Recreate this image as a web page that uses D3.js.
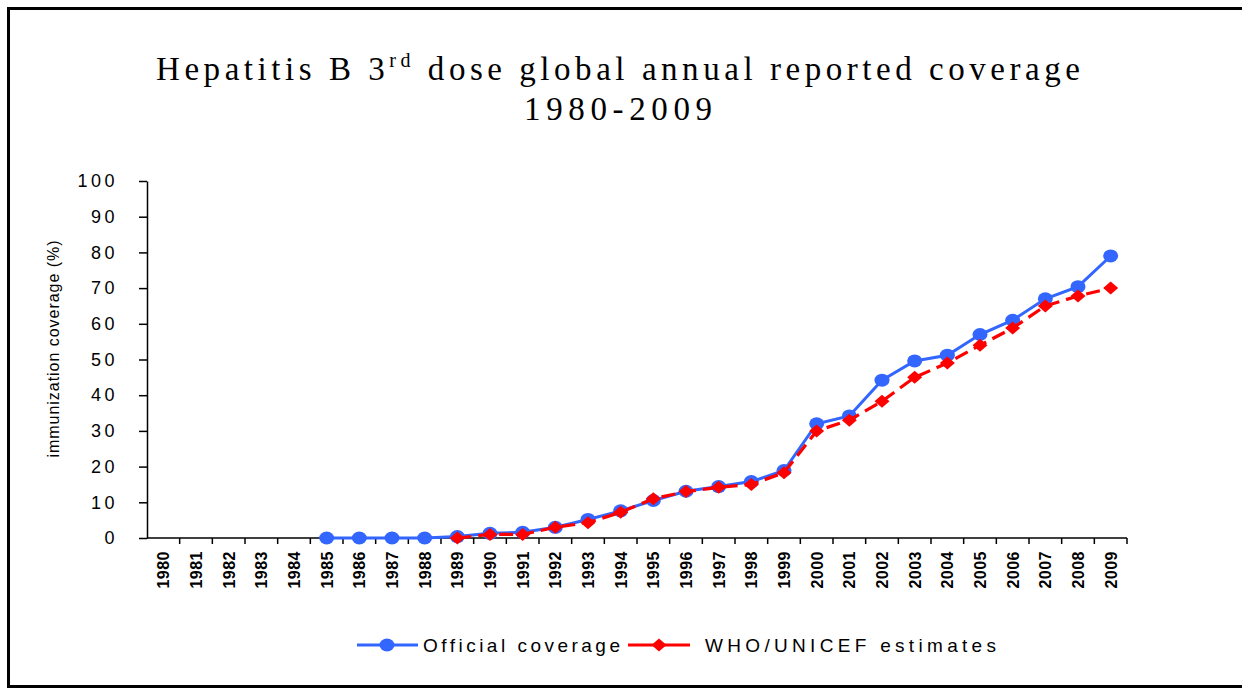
<!DOCTYPE html>
<html>
<head>
<meta charset="utf-8">
<script src="https://cdn.jsdelivr.net/npm/d3@7"></script>
<style>
  body { margin: 0; background: #fff; overflow: hidden; }
  svg { display: block; }
</style>
</head>
<body>
<svg id="chart" width="1242" height="689"></svg>
<script>
// data
const years = ['1980', '1981', '1982', '1983', '1984', '1985', '1986', '1987', '1988', '1989',
  '1990', '1991', '1992', '1993', '1994', '1995', '1996', '1997', '1998', '1999',
  '2000', '2001', '2002', '2003', '2004', '2005', '2006', '2007', '2008', '2009']
const official = [null, null, null, null, null, 0, 0, 0, 0, 0.4,
  1.3, 1.6, 3, 5.2, 7.6, 10.5, 13.1, 14.4, 15.8, 18.9,
  32, 34.2, 44.2, 49.6, 51.2, 57, 61, 67, 70.4, 79]
const whoUnicef = [null, null, null, null, null, null, null, null, null, 0,
  1, 1, 3, 4.3, 7.2, 11, 13, 14.2, 15, 18.3,
  30, 33, 38.3, 45, 49, 54, 58.8, 65, 67.8, 70]
const yTicks = [0, 10, 20, 30, 40, 50, 60, 70, 80, 90, 100]

const blue = '#3366ff'
const red = '#ff0000'

const svg = d3.select('#chart')

// outer frame (right edge is off the picture)
svg.append('path')
  .attr('d', 'M1250,8.5H8.5V686.5H1250')
  .attr('fill', 'none').attr('stroke', '#000').attr('stroke-width', 3)

// title
const title = svg.append('text')
  .attr('x', 618).attr('y', 80)
  .attr('text-anchor', 'middle')
  .attr('font-family', '"Liberation Serif", "Times New Roman", serif')
  .attr('font-size', 33)
  .attr('textLength', 924).attr('lengthAdjust', 'spacing')
title.append('tspan').text('Hepatitis B 3')
title.append('tspan').attr('dy', -13).attr('font-size', 20).text('rd')
title.append('tspan').attr('dy', 13).text(' dose global annual reported coverage')

svg.append('text')
  .attr('x', 618).attr('y', 120)
  .attr('text-anchor', 'middle')
  .attr('font-family', '"Liberation Serif", "Times New Roman", serif')
  .attr('font-size', 33)
  .attr('textLength', 188).attr('lengthAdjust', 'spacing')
  .text('1980-2009')

// scales
const x = d3.scaleBand().domain(years).range([147, 1127]).padding(0)
const y = d3.scaleLinear().domain([0, 100]).range([538, 181])

// y axis
const yAxis = svg.append('g')
  .attr('transform', 'translate(147,0)')
  .call(d3.axisLeft(y).tickValues(yTicks).tickSize(8).tickPadding(21).tickSizeOuter(0))
yAxis.select('.domain').attr('stroke', '#000').attr('stroke-width', 1.5)
yAxis.selectAll('.tick line').attr('stroke', '#000').attr('stroke-width', 1.5)
yAxis.selectAll('.tick text')
  .attr('font-family', '"Liberation Sans", Arial, sans-serif')
  .attr('font-size', 18)
  .attr('letter-spacing', 3.5)
  .attr('fill', '#000')

// x axis: ticks on category boundaries
const xAxis = svg.append('g').attr('transform', 'translate(0,538)')
xAxis.append('line')
  .attr('x1', 147).attr('x2', 1127)
  .attr('stroke', '#000').attr('stroke-width', 1.5)
xAxis.selectAll('line.tk')
  .data(years)
  .join('line')
  .attr('class', 'tk')
  .attr('x1', d => x(d) + x.bandwidth()).attr('x2', d => x(d) + x.bandwidth())
  .attr('y1', 0).attr('y2', 6)
  .attr('stroke', '#000').attr('stroke-width', 1.5)
xAxis.selectAll('text')
  .data(years)
  .join('text')
  .attr('transform', d => `translate(${x(d) + x.bandwidth() / 2 + 6},13) rotate(-90)`)
  .attr('text-anchor', 'end')
  .attr('font-family', '"Liberation Sans", Arial, sans-serif')
  .attr('font-weight', 'bold')
  .attr('font-size', 16)
  .attr('letter-spacing', 0.5)
  .text(d => d)

// y axis title
svg.append('text')
  .attr('transform', 'translate(59,349) rotate(-90)')
  .attr('text-anchor', 'middle')
  .attr('font-family', '"Liberation Sans", Arial, sans-serif')
  .attr('font-size', 16)
  .attr('textLength', 217).attr('lengthAdjust', 'spacing')
  .text('immunization coverage (%)')

const cx = (d, i) => x(years[i]) + x.bandwidth() / 2

// official coverage
const lineGen = d3.line()
  .defined(d => d !== null)
  .x(cx)
  .y(d => y(d))

svg.append('path')
  .datum(official)
  .attr('d', lineGen)
  .attr('fill', 'none').attr('stroke', blue).attr('stroke-width', 3)

svg.append('g').selectAll('ellipse')
  .data(official.map((v, i) => ({ v, i })).filter(d => d.v !== null))
  .join('ellipse')
  .attr('cx', d => cx(d.v, d.i))
  .attr('cy', d => y(d.v))
  .attr('rx', 7.5).attr('ry', 6.5)
  .attr('fill', blue)

// WHO/UNICEF estimates
svg.append('path')
  .datum(whoUnicef)
  .attr('d', lineGen)
  .attr('fill', 'none').attr('stroke', red).attr('stroke-width', 3.2)
  .attr('stroke-dasharray', '14,7')

const diamond = (px, py) => `M${px},${py - 6.5}L${px + 7.5},${py}L${px},${py + 6.5}L${px - 7.5},${py}Z`

svg.append('g').selectAll('path')
  .data(whoUnicef.map((v, i) => ({ v, i })).filter(d => d.v !== null))
  .join('path')
  .attr('d', d => diamond(cx(d.v, d.i), y(d.v)))
  .attr('fill', red)

// legend
const legend = svg.append('g').attr('font-family', '"Liberation Sans", Arial, sans-serif')
legend.append('line')
  .attr('x1', 357).attr('x2', 418).attr('y1', 645).attr('y2', 645)
  .attr('stroke', blue).attr('stroke-width', 3)
legend.append('ellipse')
  .attr('cx', 387).attr('cy', 645).attr('rx', 7.5).attr('ry', 6.5)
  .attr('fill', blue)
legend.append('text')
  .attr('x', 423).attr('y', 652)
  .attr('font-size', 19)
  .attr('textLength', 197).attr('lengthAdjust', 'spacing')
  .text('Official coverage')

legend.append('line')
  .attr('x1', 628).attr('x2', 690).attr('y1', 645).attr('y2', 645)
  .attr('stroke', red).attr('stroke-width', 3.2)
legend.append('path')
  .attr('d', diamond(659, 645))
  .attr('fill', red)
legend.append('text')
  .attr('x', 705).attr('y', 652)
  .attr('font-size', 19)
  .attr('textLength', 291).attr('lengthAdjust', 'spacing')
  .text('WHO/UNICEF estimates')
</script>
</body>
</html>
